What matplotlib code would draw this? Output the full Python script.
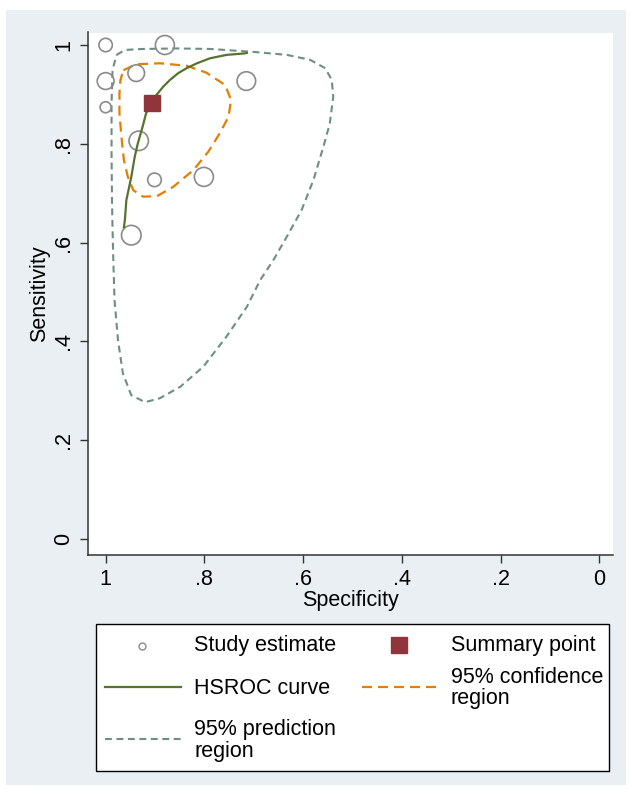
"""
HSROC summary plot: study estimates, summary point, HSROC curve,
95% confidence and prediction regions (Stata-like look).
"""

import numpy as np
import matplotlib
matplotlib.use("Agg")
import matplotlib.pyplot as plt
from matplotlib.patches import Rectangle
from matplotlib.lines import Line2D

plt.rcParams['font.family'] = ['Liberation Sans', 'DejaVu Sans']

# ---- data ----
study_spec = [1.000, 0.880, 1.000, 0.938, 1.000, 0.715, 0.933, 0.901, 0.801, 0.948]
study_sens = [1.000, 1.000, 0.927, 0.943, 0.874, 0.927, 0.806, 0.727, 0.733, 0.615]
study_weight = [0.67, 0.95, 0.84, 0.83, 0.55, 0.93, 0.97, 0.68, 0.95, 0.98]

summary_spec = 0.907
summary_sens = 0.882

hsroc_spec = [0.963, 0.961, 0.958, 0.948, 0.941, 0.935, 0.925, 0.918, 0.907, 0.897,
              0.883, 0.870, 0.853, 0.836, 0.815, 0.789, 0.755, 0.718, 0.714]
hsroc_sens = [0.631, 0.646, 0.686, 0.733, 0.774, 0.800, 0.835, 0.862, 0.882, 0.899,
              0.916, 0.929, 0.943, 0.953, 0.963, 0.973, 0.980, 0.983, 0.984]

conf_spec = [0.964, 0.938, 0.890, 0.836, 0.796, 0.758, 0.746, 0.751, 0.769, 0.792,
             0.822, 0.863, 0.896, 0.924, 0.944, 0.955, 0.963, 0.968, 0.972, 0.972,
             0.970, 0.964]
conf_sens = [0.949, 0.961, 0.963, 0.958, 0.944, 0.919, 0.889, 0.855, 0.821, 0.784,
             0.747, 0.713, 0.694, 0.693, 0.706, 0.733, 0.767, 0.814, 0.862, 0.902,
             0.929, 0.949]

pred_spec = [0.978, 0.961, 0.924, 0.856, 0.788, 0.700, 0.633, 0.586, 0.555, 0.542,
             0.539, 0.546, 0.559, 0.579, 0.603, 0.633, 0.660, 0.687, 0.714, 0.755,
             0.802, 0.849, 0.890, 0.920, 0.948, 0.965, 0.975, 0.982, 0.985, 0.987,
             0.988, 0.988, 0.986, 0.978]
pred_sens = [0.980, 0.990, 0.992, 0.993, 0.992, 0.986, 0.980, 0.970, 0.953, 0.929,
             0.895, 0.841, 0.794, 0.727, 0.666, 0.612, 0.565, 0.524, 0.470, 0.410,
             0.349, 0.308, 0.285, 0.277, 0.291, 0.335, 0.403, 0.484, 0.585, 0.676,
             0.781, 0.882, 0.949, 0.980]

ticks = [1.0, 0.8, 0.6, 0.4, 0.2, 0.0]
tick_labels = ['1', '.8', '.6', '.4', '.2', '0']

# Stata s2color palette
C_GREEN = '#55752F'
C_ORANGE = '#E37E00'
C_TEAL = '#6E8E84'
C_MAROON = '#90353B'
C_CIRCLE = '#8a8a8a'
BG = '#e9eff2'

W, H, DPI = 632, 794, 100
FS = 15.5

fig = plt.figure(figsize=(W / DPI, H / DPI), dpi=DPI, facecolor='white')

# background panel + legend drawn in pixel coordinates
bg = fig.add_axes([0, 0, 1, 1], zorder=0)
bg.set_xlim(0, W)
bg.set_ylim(H, 0)
bg.axis('off')
bg.add_patch(Rectangle((6, 10), 620, 775, facecolor=BG, edgecolor='none'))

# main plot area
left, right, top, bottom = 88, 613, 32.5, 555
ax = fig.add_axes([left / W, 1 - bottom / H, (right - left) / W, (bottom - top) / H], zorder=1)
ax.set_facecolor('white')
ax.set_xlim(1.0357, -0.0276)
ax.set_ylim(-0.0324, 1.0253)

for s in ['top', 'right']:
    ax.spines[s].set_visible(False)
for s in ['left', 'bottom']:
    ax.spines[s].set_color('#333333')
    ax.spines[s].set_linewidth(1.1)

ax.set_xticks(ticks)
ax.set_xticklabels(tick_labels)
ax.set_yticks(ticks)
ax.set_yticklabels(tick_labels)
ax.tick_params(axis='both', direction='out', length=6, width=1.0, color='#333333',
               labelsize=FS, pad=4)
ax.tick_params(axis='y', labelrotation=90)
for lab in ax.get_yticklabels():
    lab.set_va('center')

ax.set_xlabel('Specificity', fontsize=FS, labelpad=0)
ax.set_ylabel('Sensitivity', fontsize=FS, labelpad=2)

# prediction region
ax.plot(pred_spec, pred_sens, color=C_TEAL, lw=1.5, dashes=(3.3, 2.2), zorder=2)
# confidence region
ax.plot(conf_spec, conf_sens, color=C_ORANGE, lw=1.6, dashes=(4.5, 2.7), zorder=3)
# study estimates, sized by weight
diam_pt = np.array(study_weight) * 20 * 72 / DPI
ax.scatter(study_spec, study_sens, s=diam_pt ** 2, facecolors='none',
           edgecolors=C_CIRCLE, linewidths=1.2, zorder=4)
# HSROC curve
ax.plot(hsroc_spec, hsroc_sens, color=C_GREEN, lw=1.6, zorder=5)
# summary point
ax.plot([summary_spec], [summary_sens], marker='s', ms=11.5, color=C_MAROON,
        mec=C_MAROON, ls='none', zorder=6)

# ---- legend (manual, Stata layout) ----
bg.add_patch(Rectangle((96, 624), 513, 147, facecolor='white', edgecolor='black', lw=1.0))
bg.add_line(Line2D([142.4], [645.5], marker='o', ms=5, mfc='none', mec=C_CIRCLE, mew=1.0))
bg.add_line(Line2D([399], [645], marker='s', ms=12, color=C_MAROON))
bg.add_line(Line2D([105, 181], [687, 687], color=C_GREEN, lw=1.6))
bg.add_line(Line2D([362, 438], [687, 687], color=C_ORANGE, lw=1.6, dashes=(4.5, 2.7)))
bg.add_line(Line2D([105, 181], [739, 739], color=C_TEAL, lw=1.5, dashes=(3.3, 2.2)))

txt = dict(fontsize=FS, va='center', ha='left')
bg.text(194, 645.5, 'Study estimate', **txt)
bg.text(451, 645.5, 'Summary point', **txt)
bg.text(194, 688, 'HSROC curve', **txt)
bg.text(451, 677.5, '95% confidence', **txt)
bg.text(451, 698.5, 'region', **txt)
bg.text(194, 730, '95% prediction', **txt)
bg.text(194, 751.5, 'region', **txt)

fig.savefig('out.png', dpi=DPI, facecolor='white')
